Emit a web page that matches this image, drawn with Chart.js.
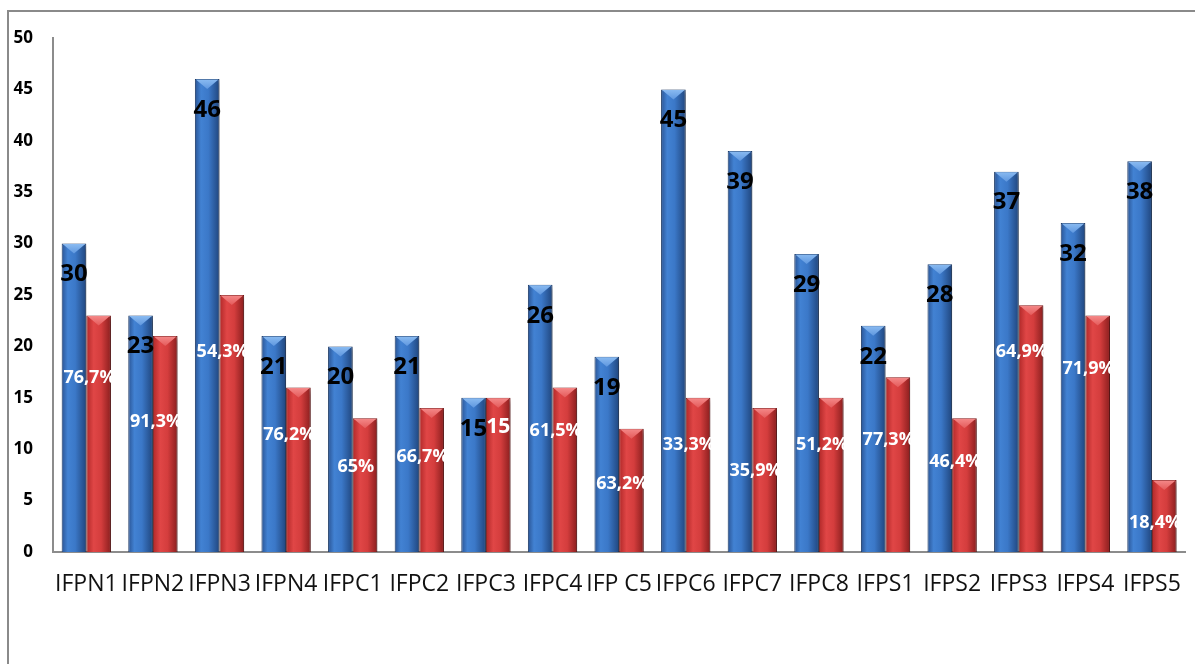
<!DOCTYPE html>
<html>
<head>
<meta charset="utf-8">
<script src="https://cdn.jsdelivr.net/npm/chart.js@4.4.1/dist/chart.umd.min.js"></script>
<style>
  html, body { margin: 0; padding: 0; background: #fff; overflow: hidden; }
  #wrap { position: relative; width: 1195px; height: 664px; overflow: hidden; }
  #frame { position: absolute; left: 7px; top: 10px; width: 1300px; height: 800px;
           border-left: 2px solid #8a8a8a; border-top: 2px solid #8a8a8a; }
  #box { position: absolute; left: 0; top: 0; width: 1200px; height: 664px; }
</style>
</head>
<body>
<div id="wrap">
  <div id="frame"></div>
  <div id="box"><canvas id="c" width="1200" height="664"></canvas></div>
</div>
<script>
const categories = ['IFPN1','IFPN2','IFPN3','IFPN4','IFPC1','IFPC2','IFPC3','IFPC4','IFP C5','IFPC6','IFPC7','IFPC8','IFPS1','IFPS2','IFPS3','IFPS4','IFPS5'];
const totalValues = [30,23,46,21,20,21,15,26,19,45,39,29,22,28,37,32,38];
const subValues   = [23,21,25,16,13,14,15,16,12,15,14,15,17,13,24,23,7];
const totalLabels = ['30','23','46','21','20','21','15','26','19','45','39','29','22','28','37','32','38'];
const pctLabels   = ['76,7%','91,3%','54,3%','76,2%','65%','66,7%','15','61,5%','63,2%','33,3%','35,9%','51,2%','77,3%','46,4%','64,9%','71,9%','18,4%'];
const pctLabelAt  = [16.9,12.7,19.5,11.4,8.3,9.3,12.2,11.8,6.6,10.4,7.9,10.4,10.9,8.8,19.5,17.8,2.8];
const yMin = 0, yMax = 50, yStep = 5;

const CAT_PCT = 0.74;
function barGradient(context, dsIndex) {
  const chart = context.chart;
  const xs = chart.scales && chart.scales.x;
  const fallback = dsIndex === 0 ? '#3a72c2' : '#d23b3b';
  if (!xs || !chart.chartArea || context.dataIndex === undefined) return fallback;
  const c = xs.getPixelForValue(context.dataIndex);
  const w = (xs.width / categories.length) * CAT_PCT / 2;
  const x0 = dsIndex === 0 ? c - w : c;
  const g = chart.ctx.createLinearGradient(x0, 0, x0 + w, 0);
  if (dsIndex === 0) {
    g.addColorStop(0, '#2a5494');
    g.addColorStop(0.25, '#4282d3');
    g.addColorStop(0.55, '#3b78c8');
    g.addColorStop(1, '#20467e');
  } else {
    g.addColorStop(0, '#b02828');
    g.addColorStop(0.3, '#e04646');
    g.addColorStop(0.6, '#d43d3d');
    g.addColorStop(1, '#8a1e1e');
  }
  return g;
}

const shadowPlugin = {
  id: 'barShadow',
  beforeDatasetDraw(chart) {
    const ctx = chart.ctx;
    ctx.save();
    ctx.shadowColor = 'rgba(0,0,0,0.35)';
    ctx.shadowBlur = 5;
    ctx.shadowOffsetX = 3;
    ctx.shadowOffsetY = 2;
  },
  afterDatasetDraw(chart) {
    chart.ctx.restore();
  }
};

const capsAndLabels = {
  id: 'capsAndLabels',
  afterDatasetsDraw(chart) {
    const ctx = chart.ctx;
    const ys = chart.scales.y;
    [0, 1].forEach(di => {
      const meta = chart.getDatasetMeta(di);
      meta.data.forEach(bar => {
        const l = bar.x - bar.width / 2, r = bar.x + bar.width / 2, t = bar.y;
        ctx.save();
        ctx.beginPath();
        ctx.moveTo(l + 1, t + 0.5);
        ctx.lineTo(r - 1, t + 0.5);
        ctx.lineTo(bar.x, t + 10);
        ctx.closePath();
        const g = ctx.createLinearGradient(0, t, 0, t + 10);
        if (di === 0) { g.addColorStop(0, '#8bbcf2'); g.addColorStop(1, '#5f97df'); }
        else { g.addColorStop(0, '#f58a8a'); g.addColorStop(1, '#e45a5a'); }
        ctx.fillStyle = g;
        ctx.fill();
        ctx.restore();
      });
    });
    const m0 = chart.getDatasetMeta(0), m1 = chart.getDatasetMeta(1);
    ctx.save();
    ctx.textAlign = 'center';
    ctx.textBaseline = 'middle';
    m0.data.forEach((bar, i) => {
      ctx.font = 'bold 24px "Open Sans", sans-serif';
      ctx.fillStyle = '#000';
      ctx.fillText(totalLabels[i], bar.x, bar.y + 31);
    });
    m1.data.forEach((bar, i) => {
      const txt = pctLabels[i];
      const isPct = txt.indexOf('%') >= 0;
      ctx.font = isPct ? 'bold 18px "Open Sans", sans-serif' : 'bold 21px "Open Sans", sans-serif';
      ctx.fillStyle = '#fff';
      const x = isPct ? bar.x - bar.width * 0.37 : bar.x;
      ctx.fillText(txt, x, ys.getPixelForValue(pctLabelAt[i]));
    });
    ctx.restore();
  }
};

new Chart(document.getElementById('c'), {
  type: 'bar',
  data: {
    labels: categories,
    datasets: [
      { label: 'Total', data: totalValues,
        backgroundColor: (ctx) => barGradient(ctx, 0),
        borderColor: '#1c3a68', borderWidth: 1,
        categoryPercentage: CAT_PCT, barPercentage: 1 },
      { label: 'Part', data: subValues,
        backgroundColor: (ctx) => barGradient(ctx, 1),
        borderColor: '#741818', borderWidth: 1,
        categoryPercentage: CAT_PCT, barPercentage: 1 }
    ]
  },
  options: {
    responsive: false,
    animation: false,
    layout: { padding: { top: 38, right: 4, left: 0, bottom: 0 } },
    plugins: { legend: { display: false }, tooltip: { enabled: false } },
    scales: {
      x: {
        grid: { display: false, drawTicks: false },
        border: { display: true, color: '#8c8c8c', width: 2 },
        ticks: { color: '#111', padding: 19, maxRotation: 0, autoSkip: false,
                 font: { family: '"Open Sans", sans-serif', size: 23 } },
        afterFit(scale) { scale.height = 112; }
      },
      y: {
        min: yMin, max: yMax,
        grid: { display: false, drawTicks: false },
        border: { display: true, color: '#8c8c8c', width: 2 },
        ticks: { stepSize: yStep, color: '#000', padding: 20,
                 font: { family: '"Open Sans", sans-serif', size: 17, weight: 'bold' } },
        afterFit(scale) { scale.width = 53; }
      }
    }
  },
  plugins: [shadowPlugin, capsAndLabels]
});
</script>
</body>
</html>
